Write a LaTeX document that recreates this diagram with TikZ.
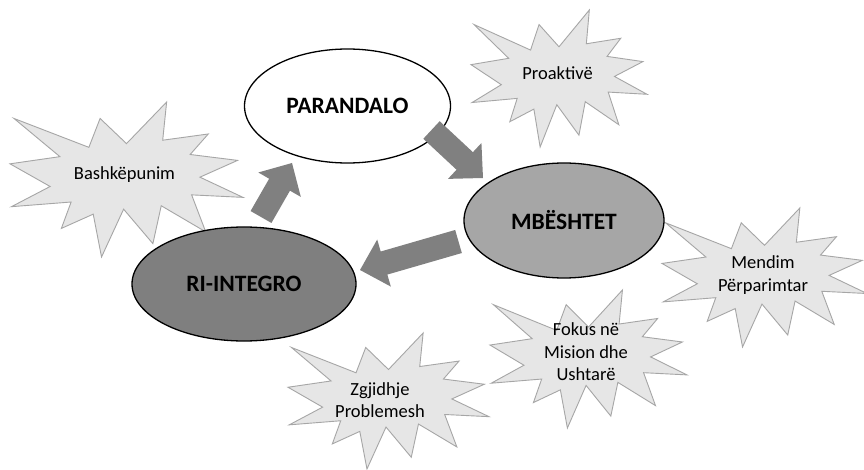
\documentclass[tikz,border=0pt]{standalone}
\usepackage{fontspec}
\setmainfont{Carlito}
\usetikzlibrary{calc,shapes.geometric}
\definecolor{starfill}{HTML}{E6E6E6}
\definecolor{starline}{HTML}{A6A6A6}
\definecolor{midgray}{HTML}{A6A6A6}
\definecolor{darkgray}{HTML}{7F7F7F}
\definecolor{arrgray}{HTML}{808080}
\tikzset{
  stage/.style={ellipse, draw=black, line width=1.3pt, inner sep=0pt,
    font=\fontsize{23.5}{26}\selectfont\bfseries, text=black},
  burst/.style={fill=starfill, draw=starline, line width=0.9pt, line join=miter},
  lbl/.style={font=\fontsize{18.5}{22.5}\selectfont, align=center, inner sep=0pt, text=black},
  blk/.style={fill=arrgray, draw=none}
}
\newcommand\drawburst[4]{%
  \begin{scope}[shift={(#1,#2)}, xscale=#3/216, yscale=#4/216]
    \path[burst] (108,58) -- (145.22,0) -- (141.55,53.25) -- (183.80,44.57) -- (167.02,73.15)
      -- (210.97,81.37) -- (176.07,104.75) -- (216,132.90) -- (168.37,129.42) -- (181.45,180.95)
      -- (140.20,144.57) -- (132.47,197.37) -- (105.32,149.35) -- (84.85,216) -- (77.15,156.27)
      -- (47.62,176.17) -- (56.67,139.37) -- (1.35,145.87) -- (37.22,117.75) -- (0,86.15)
      -- (46.27,76.17) -- (3.70,22.95) -- (73.12,63.20) -- (83.52,22.95) -- cycle;
  \end{scope}}
\newcommand\blkarrow[2]{%
  \coordinate (hb) at ($(#2)!25pt!(#1)$);
  \path[blk] ($(#1)!12pt!90:(#2)$) -- ($(hb)!12pt!90:(#2)$) -- ($(hb)!24.5pt!90:(#2)$)
    -- (#2) -- ($(hb)!24.5pt!-90:(#2)$) -- ($(hb)!12pt!-90:(#2)$) -- ($(#1)!12pt!-90:(#2)$) -- cycle;}
\begin{document}
\begin{tikzpicture}[x=1pt, y=-1pt]
  \useasboundingbox (0,0) rectangle (864,470);
  \clip (0,0) rectangle (864,470);
  \fill[white] (0,0) rectangle (864,470);

  % starbursts
  \drawburst{10}{102}{233}{155}
  \drawburst{471}{10}{176}{137}
  \drawburst{662}{208}{205}{139}
  \drawburst{490}{290}{197}{138}
  \drawburst{288}{333}{201}{136}

  \node[lbl, anchor=base] (bash) at (124.5,180) {Bashkëpunim};
  \node[lbl, anchor=base] (proa) at (557.5,80) {Proaktivë};
  \node[lbl] (mend) at (763,275) {Mendim\\Përparimtar};
  \node[lbl] (foku) at (586,352) {Fokus në\\Mision dhe\\Ushtarë};
  \node[lbl] (zgji) at (380,400) {Zgjidhje\\Problemesh};

  % stages
  \node[stage, fill=white, minimum width=206pt, minimum height=114pt] (par) at (347.5,106) {PARANDALO};
  \node[stage, fill=midgray, minimum width=200pt, minimum height=115pt] (mbe) at (564,220.5) {MBËSHTET};
  \node[stage, fill=darkgray, minimum width=224pt, minimum height=114pt] (ri) at (244,284) {RI-INTEGRO};

  % block arrows
  \coordinate (a1t) at (261,217);   \coordinate (a1h) at (292,163);
  \coordinate (a2t) at (431.5,130); \coordinate (a2h) at (483,178);
  \coordinate (a3t) at (458.5,241.5); \coordinate (a3h) at (360,270);
  \blkarrow{a1t}{a1h}
  \blkarrow{a2t}{a2h}
  \blkarrow{a3t}{a3h}
\end{tikzpicture}
\end{document}
